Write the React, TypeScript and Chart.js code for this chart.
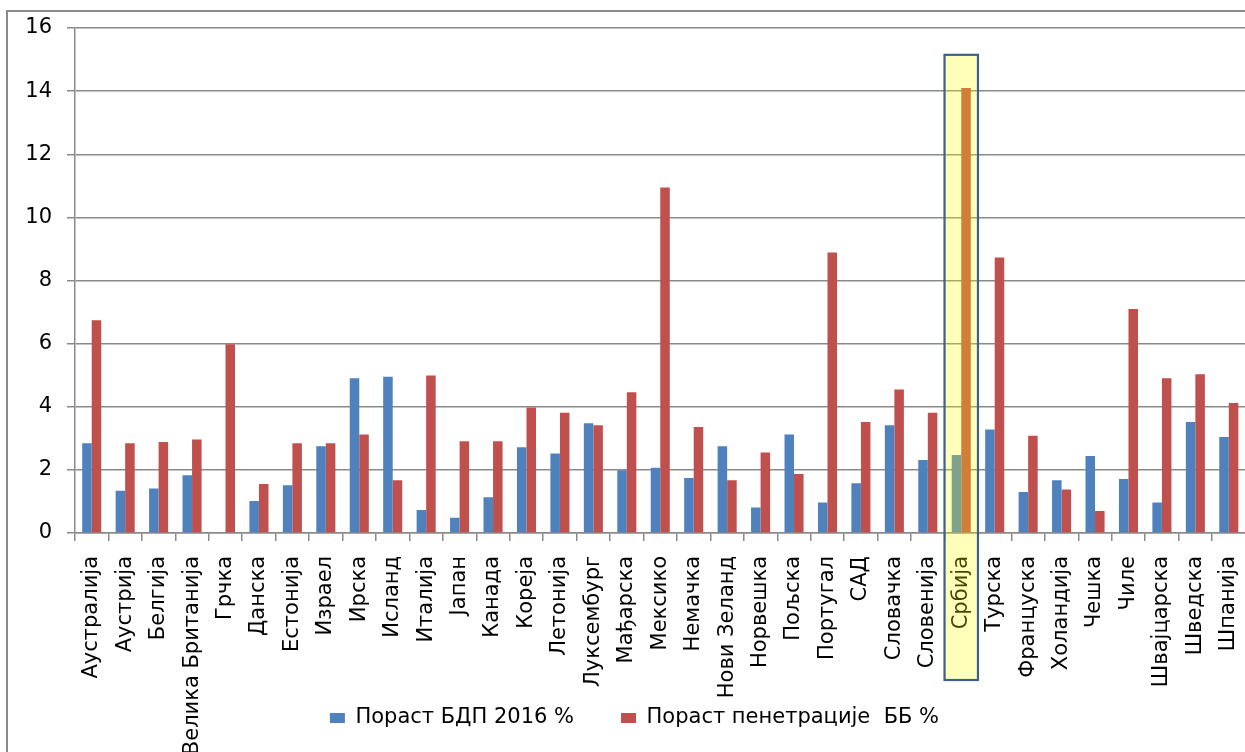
import { useEffect, useRef } from "react";
import { Chart, registerables } from "chart.js";

Chart.register(...registerables);

const categories = [
  "Аустралија", "Аустрија", "Белгија", "Велика Британија", "Грчка", "Данска", "Естонија",
  "Израел", "Ирска", "Исланд", "Италија", "Јапан", "Канада", "Кореја", "Летонија",
  "Луксембург", "Мађарска", "Мексико", "Немачка", "Нови Зеланд", "Норвешка", "Пољска",
  "Португал", "САД", "Словачка", "Словенија", "Србија", "Турска", "Француска",
  "Холандија", "Чешка", "Чиле", "Швајцарска", "Шведска", "Шпанија",
];

const gdpGrowth = [
  2.84, 1.34, 1.41, 1.83, 0, 1.01, 1.51, 2.75, 4.9, 4.95, 0.73, 0.48, 1.13, 2.72, 2.52,
  3.48, 1.99, 2.07, 1.74, 2.75, 0.81, 3.12, 0.97, 1.58, 3.41, 2.31, 2.47, 3.28, 1.3,
  1.67, 2.44, 1.71, 0.97, 3.52, 3.04,
];

const bbGrowth = [
  6.74, 2.84, 2.88, 2.96, 5.98, 1.55, 2.84, 2.84, 3.12, 1.67, 4.99, 2.91, 2.91, 3.98, 3.81,
  3.41, 4.46, 10.95, 3.36, 1.67, 2.55, 1.87, 8.89, 3.52, 4.55, 3.81, 14.1, 8.73, 3.08,
  1.38, 0.7, 7.1, 4.9, 5.03, 4.12,
];

const seriesNames = ["Пораст БДП 2016 %", "Пораст пенетрације  ББ %"];
const highlightCategory = "Србија";
const highlightTopValue = 15.15;

export default function App() {
  const ref = useRef<HTMLCanvasElement>(null);

  useEffect(() => {
    const canvas = ref.current;
    if (!canvas) return;
    const fontFamily = "'DejaVu Sans', 'Noto Sans', sans-serif";
    const gridColor = "#8a8a8a";

    const frame = {
      id: "frame",
      beforeDraw(chart: any) {
        const ctx = chart.ctx;
        ctx.save();
        ctx.fillStyle = "#ffffff";
        ctx.fillRect(0, 0, chart.width, chart.height);
        ctx.strokeStyle = gridColor;
        ctx.lineWidth = 2;
        ctx.strokeRect(7, 11, chart.width + 20, chart.height + 20);
        ctx.restore();
      },
    };

    // let the rotated category labels run below the axis box (no clipping)
    const labelRoom = {
      id: "labelRoom",
      afterLayout(chart: any) {
        const x = chart.scales.x;
        x.bottom = chart.height;
      },
    };

    const highlight = {
      id: "highlight",
      afterDraw(chart: any) {
        const idx = categories.indexOf(highlightCategory);
        if (idx < 0) return;
        const x = chart.scales.x;
        const y = chart.scales.y;
        const cw = (chart.chartArea.right - chart.chartArea.left) / categories.length;
        const cx = x.getPixelForValue(idx);
        const left = cx - cw / 2;
        const top = y.getPixelForValue(highlightTopValue);
        const bottom = chart.chartArea.bottom + 147;
        const ctx = chart.ctx;
        ctx.save();
        ctx.fillStyle = "rgba(255,255,0,0.27)";
        ctx.fillRect(left, top, cw, bottom - top);
        ctx.strokeStyle = "#3b5f91";
        ctx.lineWidth = 2.2;
        ctx.strokeRect(left, top, cw, bottom - top);
        ctx.restore();
      },
    };

    const chart = new Chart(canvas, {
      type: "bar",
      data: {
        labels: categories,
        datasets: [
          {
            label: seriesNames[0],
            data: gdpGrowth,
            backgroundColor: "#4f81bd",
            categoryPercentage: 0.57,
            barPercentage: 1.0,
          },
          {
            label: seriesNames[1],
            data: bbGrowth,
            backgroundColor: "#c0504d",
            categoryPercentage: 0.57,
            barPercentage: 1.0,
          },
        ],
      },
      options: {
        responsive: false,
        animation: false,
        devicePixelRatio: 1,
        layout: { padding: { left: 0, top: 28, right: 0, bottom: 26.5 } },
        plugins: {
          tooltip: { enabled: false },
          legend: {
            position: "bottom",
            labels: {
              boxWidth: 15,
              boxHeight: 10,
              padding: 47,
              color: "#000",
              font: { family: fontFamily, size: 21 },
            },
          },
        },
        scales: {
          x: {
            afterFit(scale: any) {
              scale.height = 127.5;
            },
            grid: {
              offset: true,
              drawOnChartArea: false,
              drawTicks: true,
              tickLength: 8,
              color: gridColor,
              lineWidth: 1.5,
            },
            border: { display: true, color: gridColor, width: 1.5 },
            ticks: {
              autoSkip: false,
              minRotation: 90,
              maxRotation: 90,
              padding: 15,
              color: "#000",
              font: { family: fontFamily, size: 21 },
            },
          },
          y: {
            min: 0,
            max: 16,
            afterFit(scale: any) {
              scale.width = 75;
            },
            grid: {
              color: gridColor,
              lineWidth: 1.5,
              tickLength: 8,
              drawTicks: true,
            },
            border: { display: true, color: gridColor, width: 1.5 },
            ticks: {
              stepSize: 2,
              padding: 15,
              color: "#000",
              font: { family: fontFamily, size: 21 },
            },
          },
        },
      },
      plugins: [frame, labelRoom, highlight],
    } as any);

    return () => chart.destroy();
  }, []);

  return (
    <div
      style={{
        position: "fixed",
        left: 0,
        top: 0,
        width: 1245,
        height: 752,
        overflow: "hidden",
        background: "#ffffff",
      }}
    >
      <canvas ref={ref} width={1269} height={765} style={{ display: "block" }} />
    </div>
  );
}
